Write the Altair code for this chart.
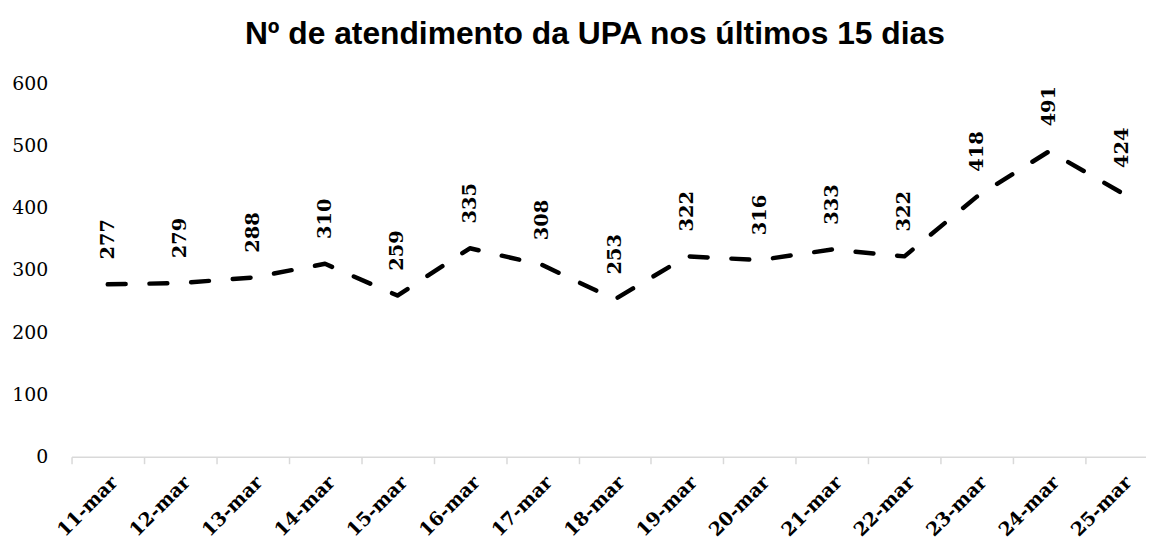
import altair as alt
import pandas as pd

dias = ["11-mar", "12-mar", "13-mar", "14-mar", "15-mar", "16-mar", "17-mar", "18-mar",
        "19-mar", "20-mar", "21-mar", "22-mar", "23-mar", "24-mar", "25-mar"]
atendimentos = [277, 279, 288, 310, 259, 335, 308, 253, 322, 316, 333, 322, 418, 491, 424]

df = pd.DataFrame({"dia": dias, "valor": atendimentos})

SERIF = "DejaVu Serif"

x = alt.X("dia:O", sort=dias, title=None,
          scale=alt.Scale(range=[0, 1094], paddingInner=0, paddingOuter=0),
          axis=alt.Axis(labelAngle=-45, labelAlign="right", labelBaseline="top",
                        labelFont=SERIF, labelFontWeight="bold", labelFontSize=19,
                        labelColor="#000000", labelPadding=9, tickBand="extent",
                        tickSize=7, tickColor="#d9d9d9", domainColor="#d9d9d9",
                        domainWidth=1.5, tickWidth=1.5, grid=False))
y = alt.Y("valor:Q", title=None,
          scale=alt.Scale(domain=[0, 600], nice=False),
          axis=alt.Axis(values=[0, 100, 200, 300, 400, 500, 600], domain=False, ticks=False,
                        grid=False, labelFont=SERIF, labelFontSize=19, labelColor="#000000",
                        labelPadding=24))

base = alt.Chart(df)

line = base.mark_line(color="#000000", strokeWidth=4.5, strokeDash=[18, 24],
                      strokeCap="round", strokeJoin="round").encode(x=x, y=y)

labels = base.mark_text(angle=270, align="left", baseline="middle", dx=25,
                        font=SERIF, fontWeight="bold", fontSize=19.5,
                        color="#000000").encode(x=x, y=y, text="valor:Q")

chart = alt.layer(line, labels).properties(
    width=1082, height=376,
    autosize=alt.AutoSizeParams(type="none"),
    padding={"left": 64, "top": 74, "right": 0, "bottom": 86},
    title=alt.TitleParams("Nº de atendimento da UPA nos últimos 15 dias",
                          font="Liberation Sans", fontSize=32, fontWeight="bold",
                          color="#000000", anchor="middle", frame="group",
                          offset=24, dx=-14),
).configure_view(stroke=None)

chart.save("out.html", embed_options={"renderer": "svg", "actions": False})
